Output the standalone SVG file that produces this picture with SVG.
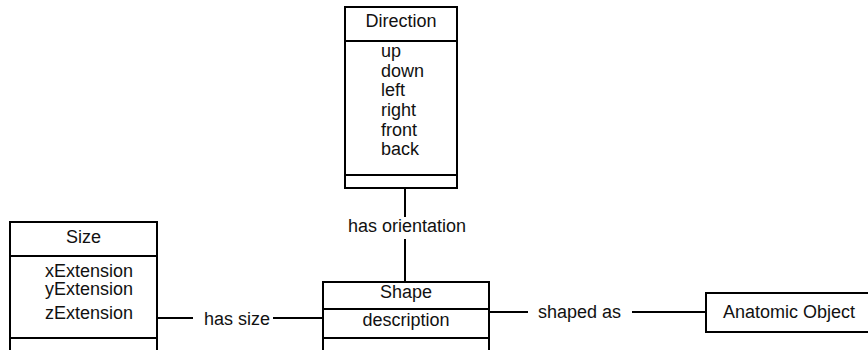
<svg xmlns="http://www.w3.org/2000/svg" width="868" height="350" viewBox="0 0 868 350">
<style>
.box{fill:#fff;stroke:#000;stroke-width:2}
.ln{stroke:#000;stroke-width:2;fill:none}
text{font-family:"Liberation Sans",Arial,sans-serif;font-size:18px;fill:#111}
.c{text-anchor:middle}
</style>
<rect width="868" height="350" fill="#fff"/>
<g id="connectors">
<line class="ln" x1="405" y1="188" x2="405" y2="217"/>
<line class="ln" x1="405" y1="239" x2="405" y2="282"/>
<text class="c" x="407" y="232">has orientation</text>
<line class="ln" x1="157" y1="318" x2="193" y2="318"/>
<line class="ln" x1="273" y1="318" x2="323" y2="318"/>
<text x="204" y="325">has size</text>
<line class="ln" x1="489" y1="312" x2="528" y2="312"/>
<line class="ln" x1="632" y1="312" x2="706" y2="312"/>
<text x="538" y="318">shaped as</text>
</g>
<g id="direction">
<rect class="box" x="345" y="7" width="112" height="181"/>
<line class="ln" x1="345" y1="41" x2="457" y2="41"/>
<line class="ln" x1="345" y1="175" x2="457" y2="175"/>
<text class="c" x="401" y="27">Direction</text>
<text x="381" y="57">up</text>
<text x="381" y="77">down</text>
<text x="381" y="96">left</text>
<text x="381" y="116">right</text>
<text x="381" y="136">front</text>
<text x="381" y="155">back</text>
</g>
<g id="size">
<rect class="box" x="10" y="222" width="147" height="140"/>
<line class="ln" x1="10" y1="256" x2="157" y2="256"/>
<line class="ln" x1="10" y1="338" x2="157" y2="338"/>
<text class="c" x="83.5" y="243">Size</text>
<text x="45" y="277">xExtension</text>
<text x="45" y="295">yExtension</text>
<text x="45" y="319">zExtension</text>
</g>
<g id="shape">
<rect class="box" x="323" y="282" width="166" height="80"/>
<line class="ln" x1="323" y1="309" x2="489" y2="309"/>
<line class="ln" x1="323" y1="338" x2="489" y2="338"/>
<text class="c" x="406" y="298">Shape</text>
<text class="c" x="406" y="326">description</text>
</g>
<g id="anatomic">
<rect class="box" x="706" y="293" width="170" height="39"/>
<text x="723" y="318">Anatomic Object</text>
</g>
</svg>
